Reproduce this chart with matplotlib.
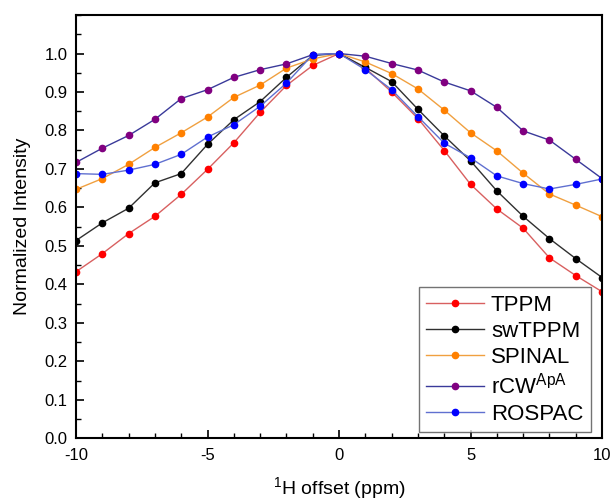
import numpy as np
import matplotlib
matplotlib.use("Agg")
import matplotlib.pyplot as plt
from matplotlib.ticker import MultipleLocator, FixedLocator

plt.rcParams['font.family'] = ['Liberation Sans', 'DejaVu Sans']
plt.rcParams['axes.unicode_minus'] = False

offset = np.arange(-10, 11)

tppm = [0.433, 0.480, 0.532, 0.577, 0.634, 0.699, 0.768, 0.847, 0.917, 0.969, 1.0,
        0.962, 0.900, 0.831, 0.748, 0.660, 0.596, 0.546, 0.469, 0.423, 0.381]
swtppm = [0.514, 0.560, 0.598, 0.664, 0.688, 0.764, 0.828, 0.875, 0.938, 0.995, 1.0,
          0.964, 0.927, 0.855, 0.786, 0.721, 0.643, 0.577, 0.519, 0.467, 0.418]
spinal = [0.647, 0.675, 0.712, 0.756, 0.794, 0.835, 0.886, 0.918, 0.962, 0.986, 1.0,
          0.978, 0.948, 0.908, 0.853, 0.794, 0.747, 0.689, 0.635, 0.606, 0.576]
rcw = [0.717, 0.754, 0.787, 0.829, 0.883, 0.906, 0.938, 0.958, 0.973, 0.997, 1.0,
       0.993, 0.974, 0.957, 0.926, 0.903, 0.860, 0.799, 0.775, 0.725, 0.675]
rospac = [0.688, 0.686, 0.697, 0.712, 0.738, 0.783, 0.815, 0.863, 0.923, 0.997, 1.0,
          0.958, 0.906, 0.836, 0.767, 0.729, 0.682, 0.662, 0.648, 0.660, 0.674]

yticks = [0.0, 0.1, 0.2, 0.3, 0.4, 0.5, 0.6, 0.7, 0.8, 0.9, 1.0]

series = [
    ("TPPM", tppm, "#ff0000", "#d86060"),
    ("swTPPM", swtppm, "#000000", "#303030"),
    ("SPINAL", spinal, "#ff8000", "#f0a040"),
    ("rCW$^{\\mathregular{ApA}}$", rcw, "#800080", "#3a3a9a"),
    ("ROSPAC", rospac, "#0000ff", "#6070d0"),
]

fig = plt.figure(figsize=(6.11, 5.01), dpi=100)
ax = fig.add_axes([0.1244, 0.125, 0.861, 0.845])

for name, vals, mc, lc in series:
    ax.plot(offset, vals, color=lc, lw=1.0, marker='o', markersize=4.5,
            markerfacecolor=mc, markeredgecolor=mc, label=name)

ax.set_xlim(-10, 10)
ax.set_ylim(0, 1.1)
ax.xaxis.set_major_locator(MultipleLocator(5))
ax.xaxis.set_minor_locator(MultipleLocator(1))
ax.yaxis.set_major_locator(FixedLocator(yticks))
ax.yaxis.set_minor_locator(MultipleLocator(0.05))
ax.yaxis.set_major_formatter(matplotlib.ticker.FormatStrFormatter('%.1f'))
ax.tick_params(which='both', direction='in', top=False, right=False, labelsize=12)
ax.tick_params(which='major', length=6, width=1.2)
ax.tick_params(which='minor', length=3.5, width=1.0)
ax.tick_params(axis='x', which='major', pad=7)
ax.tick_params(axis='y', which='major', pad=6)
for s in ax.spines.values():
    s.set_linewidth(1.5)

ax.set_xlabel("$^{\\mathregular{1}}$H offset (ppm)", fontsize=14, labelpad=9)
ax.set_ylabel("Normalized Intensity", fontsize=14, labelpad=10)

leg = ax.legend(loc='lower right', bbox_to_anchor=(0.979, 0.014), fontsize=16,
                frameon=True, fancybox=False, edgecolor='#505050',
                handlelength=2.6, handletextpad=0.3, labelspacing=0.22,
                borderpad=0.35, borderaxespad=0.0)
leg.get_frame().set_linewidth(1.0)

fig.savefig("out.png", dpi=100)
